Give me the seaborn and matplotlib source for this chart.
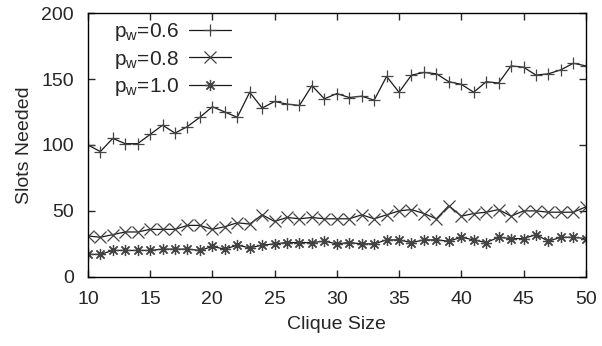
import pandas as pd
import numpy as np
import matplotlib
matplotlib.use('Agg')
import matplotlib.pyplot as plt
import seaborn as sns

# clique sizes on x axis
clique = list(range(10, 51))

# slots needed
p06 = [100, 95, 105, 101, 101, 108, 115, 109, 114, 121, 129, 125, 121, 140, 128, 133, 131, 130, 145, 135,
       139, 136, 137, 134, 152, 140, 153, 155, 154, 148, 146, 140, 148, 147, 160, 159, 153, 154, 157, 162, 160]
p08 = [31, 30, 32, 34, 34, 36, 36, 36, 39, 39, 36, 38, 41, 40, 47, 42, 45, 44, 45, 44,
       44, 44, 47, 44, 47, 50, 51, 48, 44, 54, 46, 48, 49, 51, 46, 50, 50, 49, 49, 49, 53]
p10 = [17, 17, 20, 20, 20, 20, 21, 21, 21, 20, 23, 21, 24, 22, 24, 25, 26, 26, 26, 27,
       25, 26, 25, 25, 28, 28, 26, 28, 28, 27, 30, 28, 26, 30, 29, 29, 32, 27, 30, 30, 29]

labels = ['$\\mathregular{p_w}$=0.6', '$\\mathregular{p_w}$=0.8', '$\\mathregular{p_w}$=1.0']

df = pd.DataFrame({'Clique Size': clique * 3,
                   'Slots Needed': p06 + p08 + p10,
                   'series': [labels[0]] * 41 + [labels[1]] * 41 + [labels[2]] * 41})

sns.set_style('ticks')
plt.rcParams['font.family'] = ['Liberation Sans', 'DejaVu Sans']
plt.rcParams['mathtext.fontset'] = 'custom'
plt.rcParams['mathtext.rm'] = 'Liberation Sans'
plt.rcParams['mathtext.it'] = 'Liberation Sans'

fig = plt.figure(figsize=(6.02, 3.46), dpi=100)
ax = fig.add_axes([0.146, 0.2, 0.827, 0.762])

markers = {labels[0]: '+', labels[1]: 'x', labels[2]: (8, 2, 0)}
sns.lineplot(data=df, x='Clique Size', y='Slots Needed', hue='series', style='series',
             markers=markers, dashes=False, palette=['#1a1a1a'] * 3, linewidth=0.9,
             markersize=8, markeredgewidth=0.9, markeredgecolor='#444444', ax=ax)

ax.set_xlim(10, 50)
ax.set_ylim(0, 200)
ax.set_xticks(range(10, 51, 5))
ax.set_yticks(range(0, 201, 50))
ax.tick_params(direction='in', top=True, right=True, labelsize=14, length=5, width=1)
ax.tick_params(axis='x', pad=10)
ax.tick_params(axis='y', pad=10)
for s in ax.spines.values():
    s.set_linewidth(1.0)
    s.set_color('black')
ax.set_xlabel('Clique Size', fontsize=14, labelpad=6)
ax.set_ylabel('Slots Needed', fontsize=14, labelpad=6)

ax.legend(loc='upper left', frameon=False, markerfirst=False, fontsize=15,
          handlelength=2.0, handletextpad=0.5, labelspacing=0.25, borderaxespad=0.0,
          bbox_to_anchor=(0.035, 1.0))

fig.savefig('out.png', dpi=100)
